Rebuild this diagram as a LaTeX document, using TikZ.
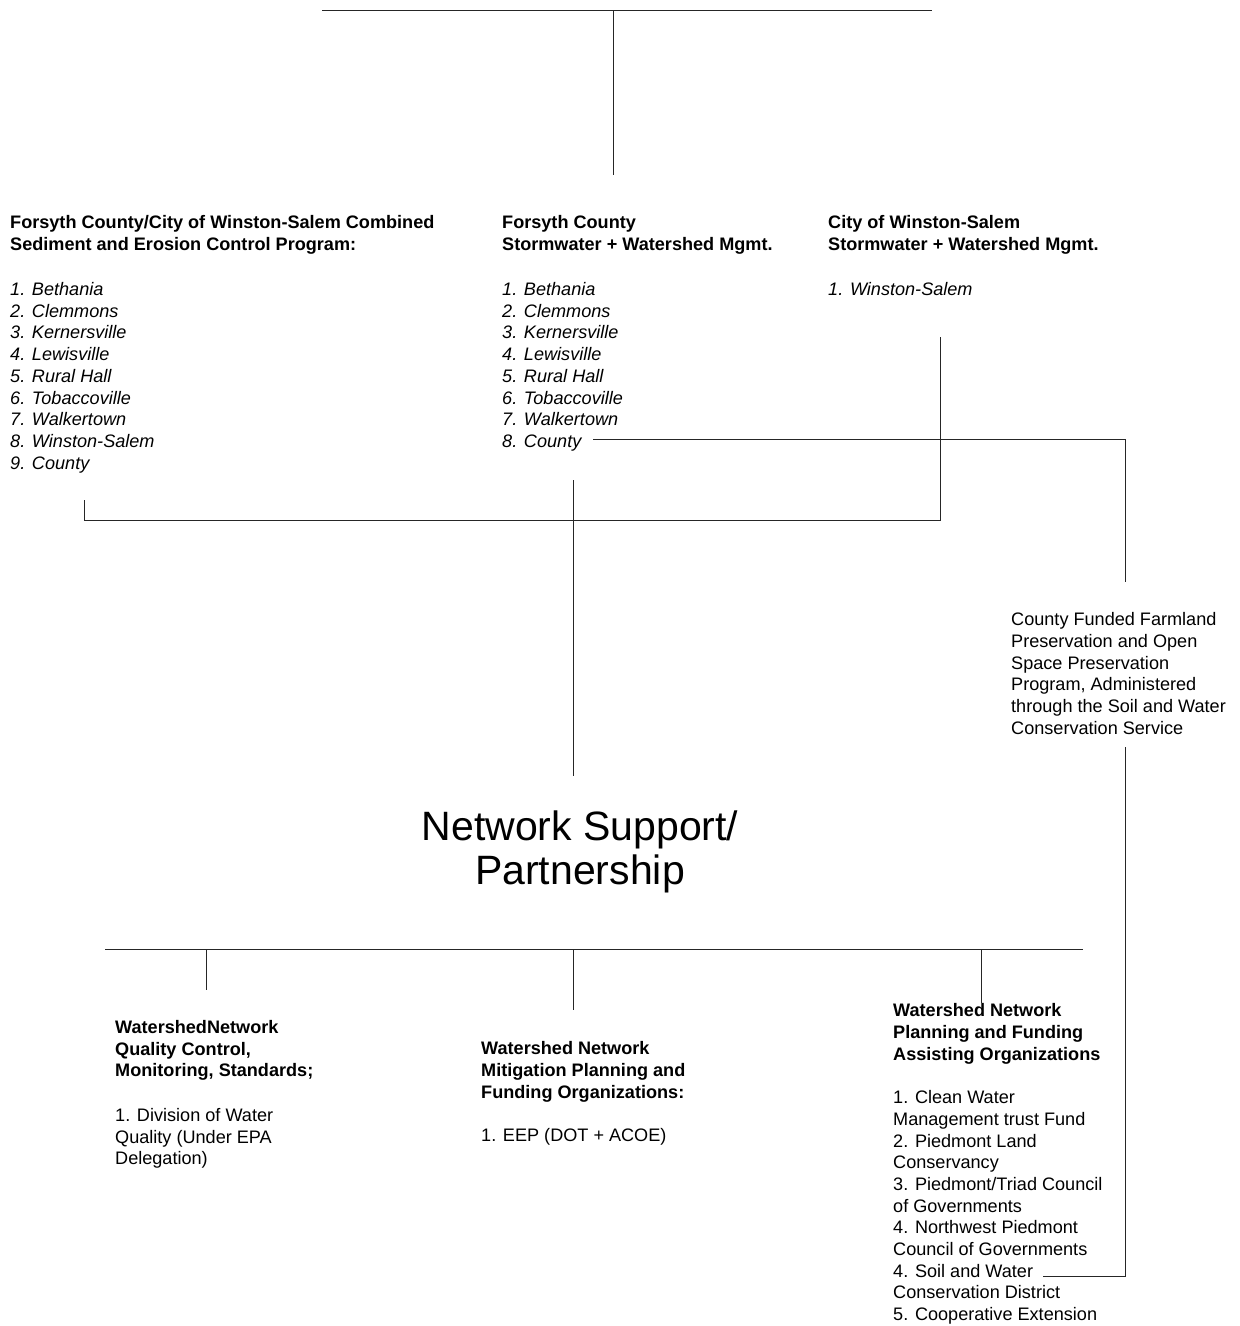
\documentclass[tikz,border=0pt]{standalone}
\usepackage{fontspec}
\setmainfont{Liberation Sans}
\begin{document}
\begin{tikzpicture}[x=1pt,y=-1pt,
  txt/.style={inner sep=0pt,anchor=north west,align=left,font=\fontsize{18.1}{21.7}\selectfont},
  big/.style={inner sep=0pt,align=center,font=\fontsize{41}{44}\selectfont},
  conn/.style={draw=black!85,line width=1pt}]
\useasboundingbox (0,0) rectangle (1240,1326);
% top
\coordinate (tl) at (322,10);
\coordinate (tr) at (932,10);
\coordinate (tm) at (613,10);
\coordinate (tb) at (613,175);
\draw[conn] (tl) -- (tr);
\draw[conn] (tm) -- (tb);
% upper blocks
\node[txt] (sed) at (10,215.5) {\textbf{Forsyth County/City of Winston-Salem Combined}\\\textbf{Sediment and Erosion Control Program:}\\[23.3pt]
\textit{1. Bethania}\\\textit{2. Clemmons}\\\textit{3. Kernersville}\\\textit{4. Lewisville}\\\textit{5. Rural Hall}\\\textit{6. Tobaccoville}\\\textit{7. Walkertown}\\\textit{8. Winston-Salem}\\\textit{9. County}};
\node[txt] (fc) at (502,215.5) {\textbf{Forsyth County}\\\textbf{Stormwater + Watershed Mgmt.}\\[23.3pt]
\textit{1. Bethania}\\\textit{2. Clemmons}\\\textit{3. Kernersville}\\\textit{4. Lewisville}\\\textit{5. Rural Hall}\\\textit{6. Tobaccoville}\\\textit{7. Walkertown}\\\textit{8. County}};
\node[txt] (ws) at (828,215.5) {\textbf{City of Winston-Salem}\\\textbf{Stormwater + Watershed Mgmt.}\\[23.3pt]
\textit{1. Winston-Salem}};
% farmland
\node[txt] (farm) at (1011,612.5) {County Funded Farmland\\Preservation and Open\\Space Preservation\\Program, Administered\\through the Soil and Water\\Conservation Service};
% center
\node[big] (net) at (580,852) {Network Support/\\Partnership};
% lower blocks
\node[txt] (qc) at (115,1020) {\textbf{WatershedNetwork}\\\textbf{Quality Control,}\\\textbf{Monitoring, Standards;}\\[23pt]
1. Division of Water\\Quality (Under EPA\\Delegation)};
\node[txt] (mit) at (481,1041.5) {\textbf{Watershed Network}\\\textbf{Mitigation Planning and}\\\textbf{Funding Organizations:}\\[21.7pt]
1. EEP (DOT + ACOE)};
\node[txt] (pf) at (893,1003.5) {\textbf{Watershed Network}\\\textbf{Planning and Funding}\\\textbf{Assisting Organizations}\\[21.7pt]
1. Clean Water\\Management trust Fund\\2. Piedmont Land\\Conservancy\\3. Piedmont/Triad Council\\of Governments\\4. Northwest Piedmont\\Council of Governments\\4. Soil and Water\\Conservation District\\5. Cooperative Extension};
% combining bracket
\coordinate (wsb) at (940,337);
\coordinate (wsc) at (940,520);
\coordinate (sedc) at (84,520);
\coordinate (sedb) at (84,500);
\draw[conn] (wsb) -- (wsc) -- (sedc) -- (sedb);
\coordinate (fcb) at (573,480);
\coordinate (nett) at (573,776);
\draw[conn] (fcb) -- (nett);
% county to farmland
\coordinate (cty) at (593,439);
\coordinate (ctyr) at (1125,439);
\coordinate (farmt) at (1125,582);
\draw[conn] (cty) -- (ctyr) -- (farmt);
\coordinate (farmb) at (1125,747);
\coordinate (soilr) at (1125,1276);
\coordinate (soil) at (1043,1276);
\draw[conn] (farmb) -- (soilr) -- (soil);
% lower bar
\coordinate (bl) at (105,949);
\coordinate (br) at (1083,949);
\draw[conn] (bl) -- (br);
\coordinate (q1) at (206,949);
\coordinate (q2) at (206,990);
\draw[conn] (q1) -- (q2);
\coordinate (m1) at (573,949);
\coordinate (m2) at (573,1010);
\draw[conn] (m1) -- (m2);
\coordinate (p1) at (981,949);
\coordinate (p2) at (981,1003);
\draw[conn] (p1) -- (p2);
\end{tikzpicture}
\end{document}
